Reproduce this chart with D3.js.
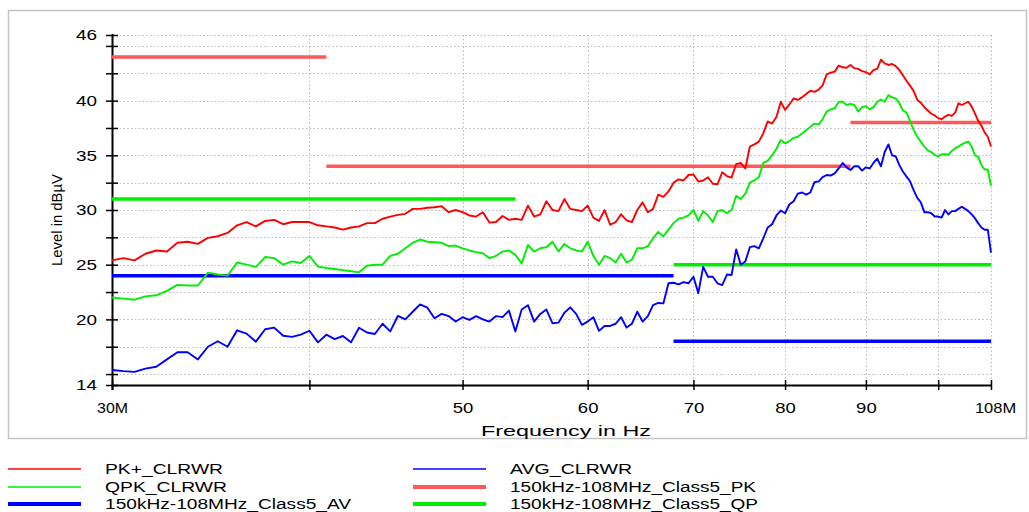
<!DOCTYPE html>
<html>
<head>
<meta charset="utf-8">
<script src="https://cdn.jsdelivr.net/npm/d3@7"></script>
<style>
  body { margin: 0; background: #fff; }
  svg { display: block; }
  text { font-family: "Liberation Sans", Arial, sans-serif; fill: #000; }
</style>
</head>
<body>
<svg id="chart" width="1029" height="512"></svg>
<script>
// Sweep frequencies in MHz (0.5 MHz steps)
const freqMHz = [
  30, 30.5, 31, 31.5, 32, 32.5, 33, 33.5, 34, 34.5,
  35, 35.5, 36, 36.5, 37, 37.5, 38, 38.5, 39, 39.5,
  40, 40.5, 41, 41.5, 42, 42.5, 43, 43.5, 44, 44.5,
  45, 45.5, 46, 46.5, 47, 47.5, 48, 48.5, 49, 49.5,
  50, 50.5, 51, 51.5, 52, 52.5, 53, 53.5, 54, 54.5,
  55, 55.5, 56, 56.5, 57, 57.5, 58, 58.5, 59, 59.5,
  60, 60.5, 61, 61.5, 62, 62.5, 63, 63.5, 64, 64.5,
  65, 65.5, 66, 66.5, 67, 67.5, 68, 68.5, 69, 69.5,
  70, 70.5, 71, 71.5, 72, 72.5, 73, 73.5, 74, 74.5,
  75, 75.5, 76, 76.5, 77, 77.5, 78, 78.5, 79, 79.5,
  80, 80.5, 81, 81.5, 82, 82.5, 83, 83.5, 84, 84.5,
  85, 85.5, 86, 86.5, 87, 87.5, 88, 88.5, 89, 89.5,
  90, 90.5, 91, 91.5, 92, 92.5, 93, 93.5, 94, 94.5,
  95, 95.5, 96, 96.5, 97, 97.5, 98, 98.5, 99, 99.5,
  100, 100.5, 101, 101.5, 102, 102.5, 103, 103.5, 104, 104.5,
  105, 105.5, 106, 106.5, 107, 107.5, 108
];

// PK+_CLRWR trace, dBµV
const pkClrwr = [
  25.4, 25.6, 25.4, 26.0, 26.3, 26.2, 27.0, 27.1, 26.9, 27.45,
  27.6, 27.9, 28.6, 28.9, 28.5, 29.0, 29.1, 28.7, 28.9, 28.9,
  28.9, 28.6, 28.5, 28.4, 28.2, 28.4, 28.5, 28.8, 28.8, 29.2,
  29.4, 29.55, 29.65, 30.1, 30.1, 30.2, 30.25, 30.35, 29.8, 30.0,
  29.8, 29.5, 29.4, 29.8, 28.85, 28.9, 29.45, 29.1, 29.2, 29.1,
  30.4, 29.4, 29.6, 30.8, 30.0, 29.9, 31.0, 30.1, 30.0, 29.9,
  30.4, 29.3, 29.0, 30.0, 28.65, 28.9, 29.6, 29.05, 28.9, 30.0,
  30.7, 29.8, 30.1, 31.4, 31.2, 31.7, 32.5, 32.8, 32.7, 33.2,
  33.25, 32.6, 32.7, 33.0, 32.4, 32.35, 33.45, 33.1, 32.96, 34.2,
  34.3, 33.8, 35.8, 36.0, 36.25, 37.0, 38.1, 37.9, 38.5, 39.9,
  39.15, 39.65, 40.2, 40.06, 40.3, 40.6, 40.9, 40.8, 41.0, 41.4,
  42.4, 42.55, 42.65, 43.2, 43.05, 43.0, 43.25, 42.97, 42.9, 42.7,
  42.6, 42.4, 42.8, 42.9, 43.75, 43.4, 43.26, 43.35, 43.15, 42.8,
  42.3, 41.8, 41.35, 40.85, 40.06, 39.8, 39.4, 39.1, 38.8, 38.65,
  38.4, 38.3, 38.54, 38.69, 38.6, 38.9, 39.76, 39.6, 39.76, 39.9,
  39.45, 38.84, 38.15, 37.7, 37.1, 36.7, 35.8
];

// QPK_CLRWR trace, dBµV
const qpkClrwr = [
  22.0, 21.9, 21.8, 22.1, 22.2, 22.6, 23.15, 23.1, 23.1, 24.27,
  24.1, 24.0, 25.2, 25.0, 24.8, 25.7, 25.6, 25.0, 25.3, 25.15,
  25.8, 24.82, 24.7, 24.6, 24.5, 24.4, 24.3, 24.9, 25.0, 25.0,
  25.8, 26.0, 26.5, 27.0, 27.3, 27.1, 27.05, 27.0, 26.7, 26.75,
  26.5, 26.3, 26.15, 26.05, 25.6, 25.8, 26.2, 26.3, 25.9, 25.12,
  26.8, 26.2, 26.5, 26.6, 27.1, 26.2, 26.9, 26.5, 26.3, 26.2,
  27.1, 25.8, 25.0, 25.8, 25.6, 25.2, 26.0, 25.2, 25.45, 26.5,
  26.5, 26.7, 27.4, 28.0, 27.6, 28.2, 28.8, 29.2, 29.3, 29.5,
  30.0, 29.0, 29.9, 29.5, 28.9, 29.9, 30.0, 29.7, 30.0, 31.3,
  31.0, 31.5, 32.5, 32.7, 33.0, 34.3, 34.5, 35.0, 35.6, 36.4,
  36.1, 36.3, 36.6, 36.7, 37.0, 37.3, 37.6, 37.9, 37.8, 38.3,
  39.0, 39.2, 39.3, 39.9, 39.9, 39.6, 39.7, 39.6, 39.0, 39.4,
  39.5, 39.2, 39.4, 39.9, 40.1, 39.9, 40.5, 40.3, 40.2, 39.76,
  39.1, 38.9, 38.1, 37.3, 36.7, 36.25, 35.79, 35.45, 35.3, 35.03,
  34.9, 35.1, 35.1, 35.05, 35.4, 35.65, 35.8, 36.0, 36.15, 36.25,
  35.8, 35.0, 34.85, 34.12, 33.7, 33.7, 32.2
];

// AVG_CLRWR trace, dBµV
const avgClrwr = [
  15.37, 15.27, 15.2, 15.5, 15.67, 16.34, 17.0, 17.0, 16.34, 17.5,
  18.0, 17.5, 19.0, 18.7, 17.96, 19.1, 19.25, 18.5, 18.4, 18.6,
  18.96, 17.9, 18.6, 18.2, 18.48, 17.9, 19.24, 18.8, 18.66, 19.6,
  18.9, 20.31, 20.0, 20.7, 21.37, 21.07, 20.1, 20.5, 20.3, 19.8,
  20.2, 19.95, 20.3, 20.0, 19.8, 20.3, 20.2, 20.8, 18.9, 20.9,
  21.3, 19.8, 20.5, 20.9, 19.65, 19.7, 20.6, 21.1, 20.5, 19.5,
  19.8, 20.2, 18.95, 19.4, 19.4, 19.6, 20.2, 19.25, 19.6, 20.7,
  19.8, 20.3, 21.3, 21.5, 21.46, 23.3, 23.35, 23.2, 23.4, 23.3,
  23.9, 22.4, 24.8, 23.9, 23.9, 23.3, 23.14, 24.1, 24.06, 26.4,
  25.0, 25.3, 26.6, 26.7, 26.5, 27.4, 28.4, 28.7, 29.5, 29.95,
  29.7, 30.5, 30.8, 31.5, 31.6, 31.4, 31.6, 32.55, 32.6, 33.0,
  33.2, 33.15, 33.35, 33.8, 34.3, 33.9, 33.66, 34.0, 34.0, 33.6,
  33.9, 33.8, 34.3, 34.7, 34.0, 35.3, 36.0, 35.0, 34.9, 34.1,
  33.5, 33.05, 32.6, 31.8, 31.1, 30.7, 29.8, 29.8, 29.7, 29.4,
  29.4, 29.3, 30.0, 29.6, 29.9, 29.9, 30.1, 30.3, 30.1, 29.9,
  29.6, 29.25, 28.8, 28.4, 28.2, 28.2, 26.1
];

// Limit lines: [start MHz, stop MHz, level dBµV]
const limitPK = [[30, 41, 44], [41, 88, 34], [88, 108, 38]];
const limitQP = [[30, 54, 31], [68, 108, 25]];
const limitAV = [[30, 68, 24], [68, 108, 18]];

// Axis ticks
const yLabelTicks = [14, 20, 25, 30, 35, 40, 46];
const yMinorTicks = [15, 17.5, 22.5, 27.5, 32.5, 37.5, 42.5, 45];
const yGridLines = [15, 17.5, 20, 22.5, 25, 27.5, 30, 32.5, 35, 37.5, 40, 42.5, 45, 46];
const xTickValues = [30, 40, 50, 60, 70, 80, 90, 100, 108];
const xTickText = ["30M", "", "50", "60", "70", "80", "90", "", "108M"];
const xGridLines = [40, 50, 60, 70, 80, 90, 100, 108];

// Legend entries: label, colour, line width
const legendLabels = ["PK+_CLRWR", "QPK_CLRWR", "150kHz-108MHz_Class5_AV",
                      "AVG_CLRWR", "150kHz-108MHz_Class5_PK", "150kHz-108MHz_Class5_QP"];
const legendColors = ["#ff0000", "#00ee00", "#0000ff", "#0000ff", "#ff5858", "#00ee00"];
const legendWidths = [1.5, 1.5, 4, 1.5, 4, 4];

const svg = d3.select("#chart");
svg.append("rect").attr("width", 1029).attr("height", 512).attr("fill", "#fff");

// outer frame
svg.append("rect")
  .attr("x", 8.5).attr("y", 10.5).attr("width", 1018).attr("height", 428)
  .attr("fill", "none").attr("stroke", "#c4c4c4").attr("stroke-width", 1.5);

const x = d3.scaleLog().domain([30, 108]).range([112, 991]);
const y = d3.scaleLinear().domain([14, 46]).range([385, 35]);

// dotted grid
const grid = svg.append("g").attr("stroke", "#bdbdbd").attr("stroke-width", 1)
  .attr("stroke-dasharray", "1.6,2.2");
grid.selectAll("line.h").data(yGridLines).join("line")
  .attr("x1", x(30)).attr("x2", x(108))
  .attr("y1", d => Math.round(y(d)) + 0.5).attr("y2", d => Math.round(y(d)) + 0.5);
grid.selectAll("line.v").data(xGridLines).join("line")
  .attr("x1", d => Math.round(x(d)) + 0.5).attr("x2", d => Math.round(x(d)) + 0.5)
  .attr("y1", y(46)).attr("y2", y(14));

// y axis
const yAxis = d3.axisLeft(y)
  .tickValues(yLabelTicks.concat(yMinorTicks))
  .tickFormat(d => yLabelTicks.includes(d) ? d3.format("d")(d) : "")
  .tickSizeInner(6).tickSizeOuter(0).tickPadding(9);
const gy = svg.append("g").attr("transform", `translate(${x(30)},0)`).call(yAxis);
gy.select(".domain").attr("stroke", "#000").attr("stroke-width", 2)
  .attr("d", `M0.5,${y(46) - 1}V${y(14) + 5}`);
gy.selectAll(".tick line").attr("x1", 6).attr("stroke", "#000").attr("stroke-width", 1.5);
gy.selectAll(".tick text").style("font-size", "15px").attr("fill", "#000")
  .attr("textLength", function () { return this.textContent.length ? 21 : null; })
  .attr("lengthAdjust", "spacingAndGlyphs");

// x axis
const xAxis = d3.axisBottom(x)
  .tickValues(xTickValues)
  .tickFormat((d, i) => xTickText[i])
  .tickSizeInner(5).tickSizeOuter(0).tickPadding(12);
const gx = svg.append("g").attr("transform", `translate(0,${y(14)})`).call(xAxis);
gx.select(".domain").attr("stroke", "#000").attr("stroke-width", 2)
  .attr("d", `M${x(30)},0.5H${x(108) + 1}`);
gx.selectAll(".tick line").attr("y1", -5).attr("stroke", "#000").attr("stroke-width", 1.5);
gx.selectAll(".tick text").style("font-size", "15px").attr("fill", "#000")
  .attr("textLength", function () { return this.textContent.length * 10.3; })
  .attr("lengthAdjust", "spacingAndGlyphs");
gx.selectAll(".tick").filter(d => d === 108).select("text").attr("dx", 4);

// axis titles
svg.append("text")
  .attr("transform", `translate(62,${(y(14) + y(46)) / 2 + 10}) rotate(-90)`)
  .attr("text-anchor", "middle").style("font-size", "14px")
  .attr("textLength", 92).attr("lengthAdjust", "spacingAndGlyphs")
  .text("Level in dBµV");
svg.append("text")
  .attr("x", 566).attr("y", 436).attr("text-anchor", "middle").style("font-size", "15px")
  .attr("textLength", 170).attr("lengthAdjust", "spacingAndGlyphs")
  .text("Frequency in Hz");

// limit lines
const plot = svg.append("g");
function drawLimit(segs, color) {
  plot.append("g").selectAll("line").data(segs).join("line")
    .attr("x1", d => x(d[0])).attr("x2", d => x(d[1]))
    .attr("y1", d => y(d[2])).attr("y2", d => y(d[2]))
    .attr("stroke", color).attr("stroke-width", 3.5);
}
drawLimit(limitAV, "#0000ff");
drawLimit(limitQP, "#00ee00");
drawLimit(limitPK, "#ff5858");

// measured traces
const line = d3.line().x(d => x(d[0])).y(d => y(d[1]));
function drawTrace(values, color) {
  plot.append("path")
    .datum(d3.zip(freqMHz, values))
    .attr("d", line).attr("fill", "none")
    .attr("stroke", color).attr("stroke-width", 1.9).attr("stroke-linejoin", "round");
}
drawTrace(avgClrwr, "#0000ff");
drawTrace(qpkClrwr, "#00ee00");
drawTrace(pkClrwr, "#ff0000");

// legend
const legendPos = [
  [8, 469], [8, 487], [8, 504],
  [413, 469], [413, 487], [413, 504]
];
const legendTextLen = [118, 122, 246, 122, 246, 248];
const lg = svg.append("g");
legendLabels.forEach((lab, i) => {
  const [lx, ly] = legendPos[i];
  lg.append("line").attr("x1", lx).attr("x2", lx + 73).attr("y1", ly).attr("y2", ly)
    .attr("stroke", legendColors[i]).attr("stroke-width", legendWidths[i]);
  lg.append("text").attr("x", lx + 97).attr("y", ly + 5).style("font-size", "14px")
    .attr("textLength", legendTextLen[i]).attr("lengthAdjust", "spacingAndGlyphs")
    .text(lab);
});
</script>
</body>
</html>
